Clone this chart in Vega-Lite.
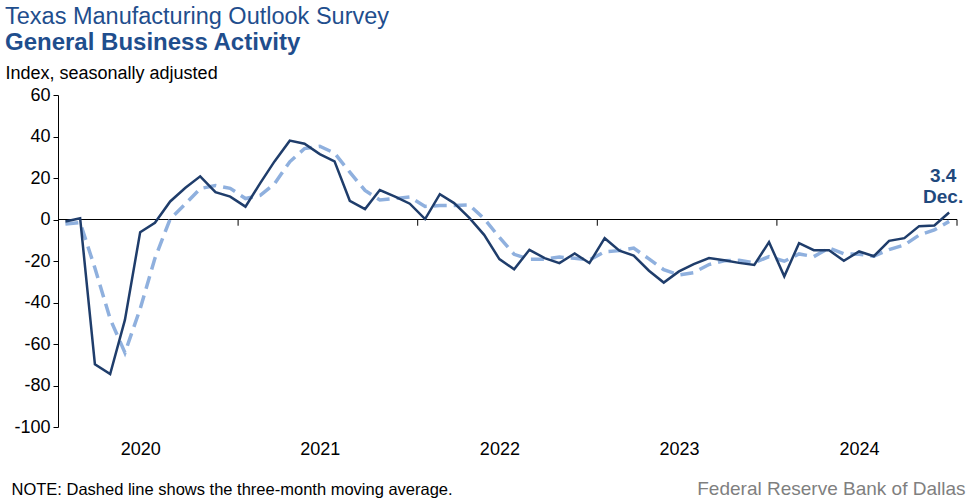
{
  "$schema": "https://vega.github.io/schema/vega-lite/v6.json",
  "width": 899,
  "height": 332,
  "autosize": "none",
  "padding": {"left": 58, "top": 95, "right": 18, "bottom": 71},
  "background": "white",
  "config": {
    "view": {"stroke": null},
    "font": "Liberation Sans"
  },
  "title": {
    "text": "Texas Manufacturing Outlook Survey",
    "subtitle": "General Business Activity",
    "anchor": "start",
    "frame": "group",
    "dx": -53,
    "fontSize": 23.5,
    "fontWeight": "normal",
    "color": "#1f4e8d",
    "subtitleFontSize": 24,
    "subtitleFontWeight": "bold",
    "subtitleColor": "#1f4e8d",
    "subtitlePadding": 3,
    "offset": 9
  },
  "datasets": {
    "series": [
      {"date": "2020-01-16", "idx": -1.0, "ma": -2.2},
      {"date": "2020-02-15", "idx": 0.6, "ma": -1.5},
      {"date": "2020-03-16", "idx": -69.8, "ma": -23.4},
      {"date": "2020-04-16", "idx": -74.5, "ma": -47.9},
      {"date": "2020-05-16", "idx": -48.4, "ma": -64.2},
      {"date": "2020-06-16", "idx": -6.1, "ma": -43.0},
      {"date": "2020-07-16", "idx": -1.6, "ma": -18.7},
      {"date": "2020-08-16", "idx": 8.7, "ma": 0.3},
      {"date": "2020-09-16", "idx": 15.3, "ma": 7.5},
      {"date": "2020-10-16", "idx": 20.8, "ma": 14.9},
      {"date": "2020-11-16", "idx": 13.2, "ma": 16.4},
      {"date": "2020-12-16", "idx": 11.0, "ma": 15.0},
      {"date": "2021-01-16", "idx": 6.2, "ma": 10.1},
      {"date": "2021-02-15", "idx": 17.5, "ma": 11.6},
      {"date": "2021-03-16", "idx": 28.0, "ma": 17.2},
      {"date": "2021-04-16", "idx": 38.0, "ma": 27.8},
      {"date": "2021-05-16", "idx": 36.5, "ma": 34.2},
      {"date": "2021-06-16", "idx": 31.5, "ma": 35.3},
      {"date": "2021-07-16", "idx": 28.0, "ma": 32.0},
      {"date": "2021-08-16", "idx": 9.0, "ma": 22.8},
      {"date": "2021-09-16", "idx": 5.0, "ma": 14.0},
      {"date": "2021-10-16", "idx": 14.2, "ma": 9.4},
      {"date": "2021-11-16", "idx": 11.0, "ma": 10.1},
      {"date": "2021-12-16", "idx": 7.6, "ma": 10.9},
      {"date": "2022-01-16", "idx": 0.2, "ma": 6.3},
      {"date": "2022-02-15", "idx": 12.2, "ma": 6.7},
      {"date": "2022-03-16", "idx": 7.9, "ma": 6.8},
      {"date": "2022-04-16", "idx": 0.8, "ma": 7.0},
      {"date": "2022-05-16", "idx": -7.4, "ma": 0.4},
      {"date": "2022-06-16", "idx": -19.1, "ma": -8.6},
      {"date": "2022-07-16", "idx": -24.0, "ma": -16.8},
      {"date": "2022-08-16", "idx": -14.6, "ma": -19.2},
      {"date": "2022-09-16", "idx": -18.6, "ma": -19.1},
      {"date": "2022-10-16", "idx": -21.0, "ma": -18.1},
      {"date": "2022-11-16", "idx": -16.4, "ma": -18.7},
      {"date": "2022-12-16", "idx": -21.0, "ma": -19.5},
      {"date": "2023-01-16", "idx": -9.0, "ma": -15.5},
      {"date": "2023-02-15", "idx": -15.0, "ma": -15.0},
      {"date": "2023-03-16", "idx": -17.4, "ma": -13.8},
      {"date": "2023-04-16", "idx": -24.7, "ma": -19.0},
      {"date": "2023-05-16", "idx": -30.4, "ma": -24.2},
      {"date": "2023-06-16", "idx": -25.0, "ma": -26.7},
      {"date": "2023-07-16", "idx": -21.5, "ma": -25.6},
      {"date": "2023-08-16", "idx": -18.6, "ma": -21.7},
      {"date": "2023-09-16", "idx": -19.6, "ma": -19.9},
      {"date": "2023-10-16", "idx": -20.9, "ma": -19.7},
      {"date": "2023-11-16", "idx": -21.9, "ma": -20.8},
      {"date": "2023-12-16", "idx": -10.9, "ma": -17.9},
      {"date": "2024-01-16", "idx": -27.4, "ma": -20.1},
      {"date": "2024-02-15", "idx": -11.4, "ma": -16.6},
      {"date": "2024-03-16", "idx": -14.8, "ma": -17.9},
      {"date": "2024-04-16", "idx": -14.8, "ma": -13.7},
      {"date": "2024-05-16", "idx": -19.9, "ma": -16.5},
      {"date": "2024-06-16", "idx": -15.4, "ma": -16.7},
      {"date": "2024-07-16", "idx": -17.7, "ma": -17.7},
      {"date": "2024-08-16", "idx": -10.3, "ma": -14.5},
      {"date": "2024-09-16", "idx": -9.0, "ma": -12.3},
      {"date": "2024-10-16", "idx": -3.2, "ma": -7.5},
      {"date": "2024-11-16", "idx": -2.9, "ma": -5.0},
      {"date": "2024-12-16", "idx": 3.4, "ma": -0.9}
    ],
    "years": [
      {"date": "2021-01-01"},
      {"date": "2022-01-01"},
      {"date": "2023-01-01"},
      {"date": "2024-01-01"},
      {"date": "2025-01-01"}
    ],
    "zero": [
      {"value": 0}
    ],
    "last": [
      {"date": "2024-12-16", "value": 3.4, "label": "3.4\nDec."}
    ]
  },
  "resolve": {"axis": {"y": "independent"}},
  "layer": [
    {
      "data": {"name": "zero"},
      "mark": {"type": "rule", "color": "#000000", "strokeWidth": 1},
      "encoding": {
        "y": {
          "field": "value",
          "type": "quantitative",
          "scale": {"domain": [-100, 60], "nice": false, "zero": false},
          "axis": {
            "orient": "left",
            "values": [-100, -80, -60, -40, -20, 0, 20, 40, 60],
            "labelExpr": "'' + datum.value",
            "grid": false,
            "domainColor": "#000000",
            "tickColor": "#000000",
            "tickSize": 5,
            "labelFontSize": 18,
            "labelColor": "#000000",
            "labelPadding": 3,
            "title": "Index, seasonally adjusted",
            "titleAngle": 0,
            "titleAlign": "left",
            "titleBaseline": "alphabetic",
            "titleX": -53,
            "titleY": -17,
            "titleFontSize": 18,
            "titleFontWeight": "normal",
            "titleColor": "#000000"
          }
        }
      }
    },
    {
      "data": {"name": "years"},
      "mark": {"type": "rule", "color": "#000000", "strokeWidth": 1},
      "encoding": {
        "x": {
          "field": "date",
          "type": "temporal",
          "scale": {"type": "utc", "domain": [{"year": 2020, "month": 1, "date": 1, "utc": true}, {"year": 2025, "month": 1, "date": 1, "utc": true}]},
          "axis": {
            "orient": "bottom",
            "domain": false,
            "ticks": false,
            "grid": false,
            "values": [
              {"year": 2020, "month": 6, "date": 16, "utc": true},
              {"year": 2021, "month": 6, "date": 16, "utc": true},
              {"year": 2022, "month": 6, "date": 16, "utc": true},
              {"year": 2023, "month": 6, "date": 16, "utc": true},
              {"year": 2024, "month": 6, "date": 16, "utc": true}
            ],
            "format": "%Y",
            "labelFontSize": 18,
            "labelColor": "#000000",
            "labelPadding": 13,
            "title": "NOTE: Dashed line shows the three-month moving average.",
            "titleAlign": "left",
            "titleAnchor": "start",
            "titleBaseline": "alphabetic",
            "titleX": -47,
            "titleY": 67,
            "titleFontSize": 16.5,
            "titleFontWeight": "normal",
            "titleColor": "#000000"
          }
        },
        "y": {"datum": 0, "type": "quantitative", "axis": null},
        "y2": {"datum": -3}
      }
    },
    {
      "data": {"name": "series"},
      "mark": {"type": "line", "color": "#8fb0de", "strokeWidth": 3.5, "strokeDash": [13, 7]},
      "encoding": {
        "x": {"field": "date", "type": "temporal"},
        "y": {"field": "ma", "type": "quantitative", "axis": null}
      }
    },
    {
      "data": {"name": "series"},
      "mark": {"type": "line", "color": "#1f3d6b", "strokeWidth": 2.5},
      "encoding": {
        "x": {"field": "date", "type": "temporal"},
        "y": {"field": "idx", "type": "quantitative", "axis": null}
      }
    },
    {
      "data": {"name": "last"},
      "mark": {"type": "text", "color": "#1f497d", "fontSize": 19, "fontWeight": "bold", "lineBreak": "\n", "lineHeight": 21, "baseline": "bottom", "align": "center", "dx": -6, "dy": -26},
      "encoding": {
        "x": {"field": "date", "type": "temporal"},
        "y": {
          "field": "value",
          "type": "quantitative",
          "axis": {
            "orient": "right",
            "domain": false,
            "ticks": false,
            "labels": false,
            "grid": false,
            "title": "Federal Reserve Bank of Dallas",
            "titleAngle": 0,
            "titleAlign": "right",
            "titleBaseline": "alphabetic",
            "titleX": 8,
            "titleY": 399,
            "titleFontSize": 19,
            "titleFontWeight": "normal",
            "titleColor": "#7f7f7f"
          }
        },
        "text": {"field": "label"}
      }
    }
  ]
}
